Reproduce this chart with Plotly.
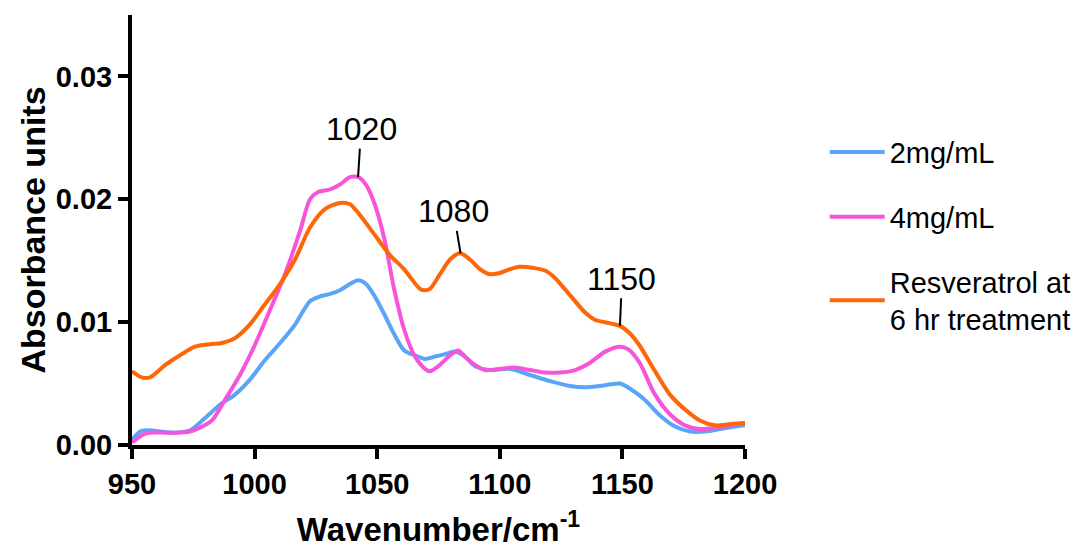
import plotly.graph_objects as go

# Wavenumber (cm^-1) and absorbance values
wn_2mg = [950, 953.3, 957.3, 961.4, 967.5, 973.7, 979.8, 986, 992, 998, 1004.2, 1010.4, 1016.5,
          1022.6, 1026.7, 1030.8, 1034.8, 1038.9, 1042.2, 1045.4, 1049, 1053, 1057, 1061, 1065.4,
          1069.5, 1073.6, 1077.7, 1081.7, 1085.8, 1090, 1096, 1104, 1112.3, 1120.5, 1128.6, 1134.7,
          1140.8, 1149, 1153, 1159, 1165.3, 1171.5, 1177.6, 1183.7, 1190, 1196, 1200]
abs_2mg = [0.0004, 0.0011, 0.0012, 0.0011, 0.0010, 0.0012, 0.0022, 0.0033, 0.0041, 0.0053, 0.0069,
           0.0083, 0.0098, 0.0117, 0.0121, 0.0123, 0.0126, 0.0131, 0.0134, 0.0131, 0.0121, 0.0106,
           0.0090, 0.0077, 0.0073, 0.0070, 0.0072, 0.0074, 0.0076, 0.0072, 0.0064, 0.0061, 0.0062,
           0.0057, 0.0052, 0.0048, 0.0047, 0.0048, 0.0050, 0.0046, 0.0037, 0.0024, 0.0015, 0.0011,
           0.0011, 0.0013, 0.0015, 0.0016]

wn_4mg = [950, 954, 957, 963.5, 967.5, 973.7, 977.7, 982.6, 988, 994, 1000, 1006.3, 1012.4, 1018.5,
          1022.6, 1025.9, 1030.8, 1034.8, 1038.9, 1042.2, 1045.4, 1049, 1053, 1057, 1061, 1065.4,
          1069.5, 1071.5, 1074.8, 1079.7, 1083, 1085.8, 1090, 1094, 1100, 1106, 1112.3, 1118.4,
          1124.6, 1130.7, 1136.8, 1143, 1149, 1152.3, 1157, 1163, 1169.4, 1175.5, 1181.6, 1187.8,
          1194, 1200]
abs_4mg = [0.0002, 0.0008, 0.0010, 0.0010, 0.0010, 0.0011, 0.0014, 0.0020, 0.0037, 0.0057, 0.0081,
           0.0110, 0.0139, 0.0174, 0.0200, 0.0206, 0.0208, 0.0212, 0.0218, 0.0218, 0.0212, 0.0196,
           0.0167, 0.0126, 0.0094, 0.0072, 0.0062, 0.0060, 0.0064, 0.0073, 0.0077, 0.0072, 0.0065,
           0.0061, 0.0062, 0.0063, 0.0061, 0.0059, 0.0059, 0.0061, 0.0067, 0.0076, 0.0080, 0.0078,
           0.0067, 0.0042, 0.0025, 0.0016, 0.0013, 0.0014, 0.0016, 0.0018]

wn_res = [950, 954, 957.3, 963.5, 969.6, 975.7, 981.8, 986.7, 992, 998, 1004, 1010, 1016.5, 1022.6,
          1028.7, 1034.8, 1038.9, 1043, 1049, 1055, 1061, 1067.5, 1069.5, 1071.5, 1075.6, 1079.7,
          1083.8, 1087.8, 1092, 1096, 1100, 1104, 1108, 1114, 1118.4, 1122.5, 1128.6, 1134.7, 1138.8,
          1145, 1149, 1153, 1157, 1163, 1169.4, 1175.5, 1181.6, 1187.8, 1194, 1200]
abs_res = [0.0060, 0.0055, 0.0055, 0.0065, 0.0073, 0.0080, 0.0082, 0.0083, 0.0087, 0.0098, 0.0114,
           0.0130, 0.0151, 0.0177, 0.0192, 0.0197, 0.0196, 0.0187, 0.0171, 0.0155, 0.0143, 0.0127,
           0.0126, 0.0127, 0.0139, 0.0151, 0.0156, 0.0151, 0.0143, 0.0139, 0.0140, 0.0143, 0.0145,
           0.0144, 0.0142, 0.0136, 0.0122, 0.0108, 0.0102, 0.0099, 0.0097, 0.0091, 0.0081, 0.0061,
           0.0041, 0.0029, 0.0020, 0.0016, 0.0017, 0.0018]

series_names = ["2mg/mL", "4mg/mL", "Resveratrol at<br>6 hr treatment"]
series_colors = ["#5AA5F7", "#F655DA", "#FF6608"]

peak_labels = ["1020", "1080", "1150"]
peak_x = [1042.2, 1084.0, 1149.0]
peak_y = [0.0218, 0.0156, 0.0097]

x_ticks = [950, 1000, 1050, 1100, 1150, 1200]
y_ticks = [0.0, 0.01, 0.02, 0.03]

FONT = "Arial, Liberation Sans, Helvetica, sans-serif"

fig = go.Figure()
for i, (xs, ys) in enumerate([(wn_2mg, abs_2mg), (wn_4mg, abs_4mg), (wn_res, abs_res)]):
    fig.add_trace(go.Scatter(
        x=xs, y=ys, mode="lines", name=series_names[i],
        line=dict(color=series_colors[i], width=4, shape="spline", smoothing=0.8),
        legendgroup=f"g{i}",
    ))

offsets = [(3, -48), (-7, -42), (2, -47)]
for lab, px, py, (ax, ay) in zip(peak_labels, peak_x, peak_y, offsets):
    fig.add_annotation(
        x=px, y=py, text=lab, showarrow=True, arrowhead=0, arrowwidth=2,
        arrowcolor="black", ax=ax, ay=ay, standoff=0,
        font=dict(family=FONT, size=32, color="black"),
    )

fig.update_layout(
    width=1088, height=551,
    margin=dict(l=132, r=343, t=15, b=106, autoexpand=False),
    plot_bgcolor="white", paper_bgcolor="white",
    font=dict(family=FONT, color="black"),
    showlegend=True,
    legend=dict(
        xref="container", yref="container",
        x=0.758, y=0.77, xanchor="left", yanchor="top",
        font=dict(family=FONT, size=29, color="black"),
        tracegroupgap=24, traceorder="grouped",
        bgcolor="rgba(0,0,0,0)", itemwidth=55,
    ),
)

fig.update_xaxes(
    range=[950, 1200], tickvals=x_ticks, ticktext=[str(v) for v in x_ticks],
    showline=True, linecolor="black", linewidth=4, mirror=False,
    ticks="outside", ticklen=10, tickwidth=4, tickcolor="black",
    showgrid=False, zeroline=False, automargin=False,
    tickfont=dict(family=FONT, size=29, color="black", weight="bold"),
    title=dict(text="<b>Wavenumber/cm<sup>-1</sup></b>", font=dict(family=FONT, size=33, color="black"),
               standoff=20),
)
fig.update_yaxes(
    range=[0, 0.035], tickvals=y_ticks, ticktext=["0.00", "0.01", "0.02", "0.03"],
    showline=True, linecolor="black", linewidth=4,
    ticks="outside", ticklen=10, tickwidth=4, tickcolor="black",
    showgrid=False, zeroline=False, automargin=False,
    tickfont=dict(family=FONT, size=29, color="black", weight="bold"),
    title=dict(text="<b>Absorbance units</b>", font=dict(family=FONT, size=34, color="black"),
               standoff=1),
)

fig.write_html("out.html")
